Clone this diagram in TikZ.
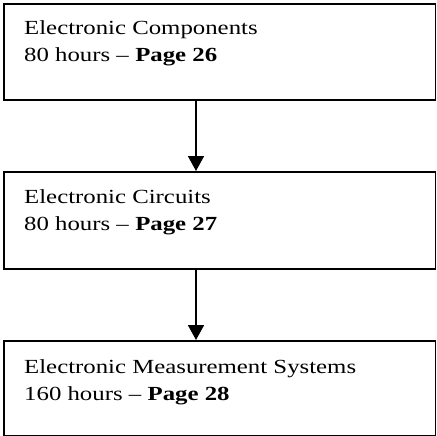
\documentclass[tikz,border=0pt]{standalone}
\usepackage{fontspec}
\setmainfont[FakeStretch=1.24]{Liberation Serif}
\usetikzlibrary{arrows.meta}
\tikzset{
  course/.style={draw=black, line width=1.8pt, rectangle, minimum width=431.5pt, minimum height=96pt, inner sep=0pt, anchor=north west},
  label/.style={anchor=base west, inner sep=0pt, font=\fontsize{20pt}{24pt}\selectfont},
  flow/.style={line width=1.8pt, -{Triangle[width=16pt,length=15pt]}}
}
\begin{document}
\begin{tikzpicture}
\useasboundingbox (0,0) rectangle (436pt,-436pt);
\node[course] (b1) at (3pt,-3pt) {};
\node[course, minimum height=97pt] (b2) at (3pt,-171pt) {};
\node[course, minimum height=95pt] (b3) at (3pt,-340pt) {};

\node[label] (t1a) at ([shift={(21pt,-32pt)}]b1.north west) {Electronic Components};
\node[label] (t1b) at ([shift={(21pt,-59pt)}]b1.north west) {80 hours – \textbf{Page 26}};
\node[label] (t2a) at ([shift={(21pt,-32pt)}]b2.north west) {Electronic Circuits};
\node[label] (t2b) at ([shift={(21pt,-59pt)}]b2.north west) {80 hours – \textbf{Page 27}};
\node[label] (t3a) at ([shift={(21pt,-33pt)}]b3.north west) {Electronic Measurement Systems};
\node[label] (t3b) at ([shift={(21pt,-60pt)}]b3.north west) {160 hours – \textbf{Page 28}};

\coordinate (ax) at (196pt,0);
\draw[flow] (b1.south -| ax) -- (b2.north -| ax);
\draw[flow] (b2.south -| ax) -- (b3.north -| ax);
\end{tikzpicture}
\end{document}
